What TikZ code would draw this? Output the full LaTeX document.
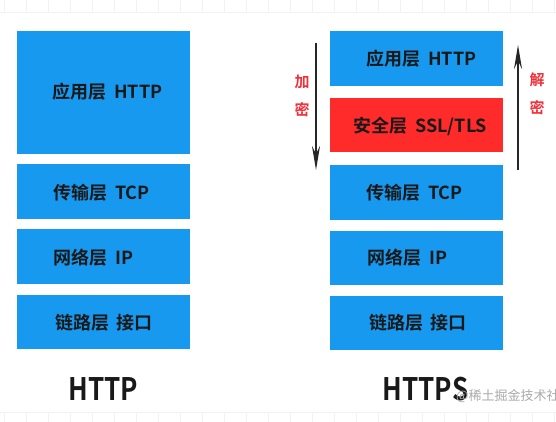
\documentclass[tikz,border=0pt]{standalone}
\usepackage{fontspec}
\setmainfont{Noto Sans CJK SC}[BoldFont=* Bold]
\usetikzlibrary{arrows.meta}
\definecolor{layerblue}{HTML}{1899F0}
\definecolor{layerred}{HTML}{FF2A2A}
\definecolor{labelred}{HTML}{F0303A}
\definecolor{gridgray}{HTML}{F2F2F2}
\definecolor{marktext}{HTML}{AAAAAA}
\tikzset{
  layer/.style={fill=layerblue, draw=none, minimum width=173pt, inner sep=0pt, anchor=north west},
  seclayer/.style={layer, fill=layerred},
  layertext/.style={anchor=west, inner sep=0pt, font=\bfseries\fontsize{18}{18}\selectfont, text=black!90},
  bigtitle/.style={inner sep=0pt, font=\bfseries\fontsize{31}{31}\selectfont, text=black!90},
  sidelabel/.style={inner sep=0pt, font=\bfseries\fontsize{15}{15}\selectfont, text=labelred},
  flow/.style={line width=1.4pt, draw=black!85, -{Stealth[length=24pt,width=8pt,inset=8pt]}},
  gridline/.style={draw=gridgray, line width=0.8pt},
}
\begin{document}
\begin{tikzpicture}[x=1pt,y=-1pt]
\useasboundingbox (0,0) rectangle (556,422);
\fill[white] (0,0) rectangle (556,422);
% faint grid at top and bottom
\foreach \gx in {0,...,25}{
  \draw[gridline] ({4.7+22*\gx},0) -- ({4.7+22*\gx},12);
  \draw[gridline] ({4.7+22*\gx},412) -- ({4.7+22*\gx},422);
}
\draw[gridline] (0,12) -- (556,12);
\draw[gridline] (0,412) -- (556,412);
% HTTP stack
\node[layer, minimum height=123pt] (lapp) at (17,31) {};
\node[layer, minimum height=55pt] (ltcp) at (17,164) {};
\node[layer, minimum height=55pt] (lip) at (17,229) {};
\node[layer, minimum height=54pt] (llink) at (17,295) {};
\node[layertext] (lappt) at (52,92) {应用层\hspace{0.45em}HTTP};
\node[layertext] (ltcpt) at (53,193) {传输层\hspace{0.45em}TCP};
\node[layertext] (lipt) at (53,258) {网络层\hspace{0.45em}IP};
\node[layertext] (llinkt) at (55,323) {链路层\hspace{0.4em}接口};
\node[bigtitle] (lhttp) at (103.5,389) {\scalebox{0.84}[1]{HTTP}};
% HTTPS stack
\node[layer, minimum height=55pt] (rapp) at (330,31) {};
\node[seclayer, minimum height=54pt] (rsec) at (330,98) {};
\node[layer, minimum height=55pt] (rtcp) at (330,165) {};
\node[layer, minimum height=54pt] (rip) at (330,231) {};
\node[layer, minimum height=54pt] (rlink) at (330,296) {};
\node[layertext] (rappt) at (366,59) {应用层\hspace{0.45em}HTTP};
\node[layertext] (rsect) at (353,126) {安全层\hspace{0.45em}SSL/TLS};
\node[layertext] (rtcpt) at (366,193) {传输层\hspace{0.45em}TCP};
\node[layertext] (ript) at (367,258) {网络层\hspace{0.45em}IP};
\node[layertext] (rlinkt) at (369,323) {链路层\hspace{0.4em}接口};
\node[bigtitle] (rhttps) at (425.5,389) {\scalebox{0.84}[1]{HTTPS}};
% encryption / decryption arrows
\coordinate (encS) at (316,43);
\coordinate (encE) at (316,170);
\draw[flow] (encS) -- (encE);
\coordinate (decS) at (518,170);
\coordinate (decE) at (518,45);
\draw[flow] (decS) -- (decE);
\node[sidelabel] (jia) at (302,82) {加};
\node[sidelabel] (mi1) at (302,110) {密};
\node[sidelabel] (jie) at (537,80) {解};
\node[sidelabel] (mi2) at (537,108) {密};
% watermark (cut off at the right edge, as in the reference)
\begin{scope}
\clip (0,0) rectangle (556,422);
\node[anchor=west, inner sep=0pt, font=\fontsize{13}{13}\selectfont, text=marktext] (mark) at (456,396) {@稀土掘金技术社区};
\end{scope}
\end{tikzpicture}
\end{document}
